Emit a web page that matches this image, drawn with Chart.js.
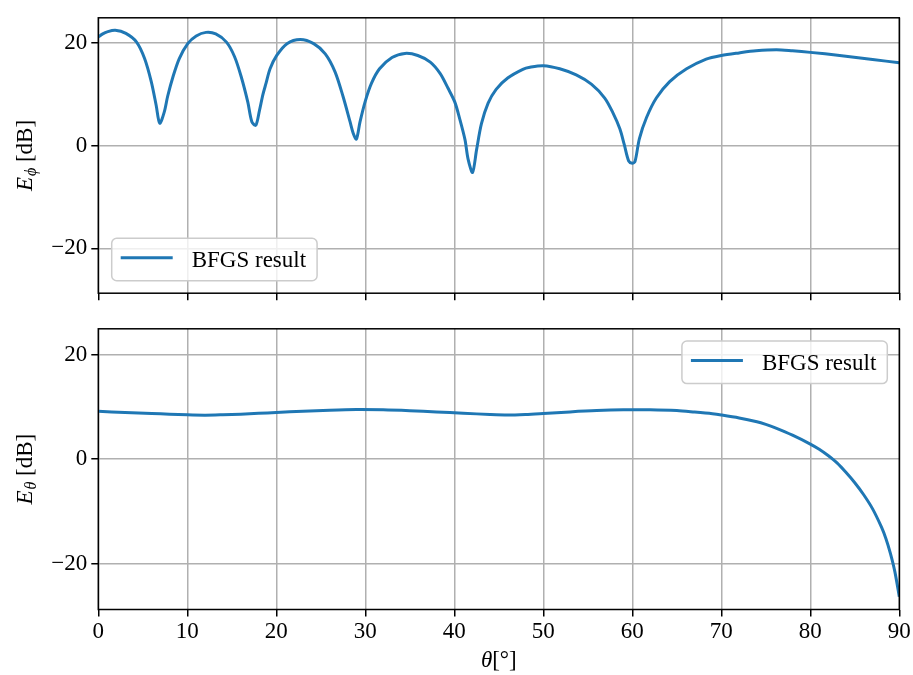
<!DOCTYPE html>
<html>
<head>
<meta charset="utf-8">
<script src="https://cdn.jsdelivr.net/npm/chart.js@4.4.1/dist/chart.umd.min.js"></script>
<style>
    body { margin: 0; background: #fff; }
    canvas { position: absolute; left: 0; }
    #phiChart { top: 0; }
    #thetaChart { top: 311px; }
</style>
</head>
<body>
<canvas id="phiChart" width="913" height="311"></canvas>
<canvas id="thetaChart" width="913" height="364"></canvas>
<script>
// E_phi pattern (dB) against theta (deg)
var theta_phi = [0, 0.5, 1.0, 1.9, 3.1, 4.3, 5.2, 5.95, 6.5, 6.9, 7.4, 7.8, 8.4, 9.1, 10.05, 11.0, 12.1, 13.2, 14.4, 15.3, 16.05, 16.8, 17.25, 17.7, 18.1, 18.5, 18.85, 19.3, 20.05, 21.2, 22.7, 24.2, 25.5, 26.6, 27.5, 28.3, 28.65, 29.0, 29.4, 30.0, 30.7, 31.6, 33.0, 34.45, 35.9, 37.3, 38.4, 39.3, 40.06, 40.6, 41.2, 41.55, 42.05, 42.5, 43.05, 43.8, 44.7, 46.0, 47.7, 48.5, 50.0, 51.85, 53.7, 55.4, 56.9, 57.8, 58.6, 59.1, 59.6, 60.0, 60.3, 60.8, 61.6, 62.7, 64.2, 66.1, 68.3, 70.0, 72.0, 73.9, 76.2, 78.0, 80.0, 83.3, 87.0, 90.0];
var e_phi = [21.2, 21.8, 22.2, 22.5, 21.9, 20.2, 17.0, 12.5, 7.9, 4.4, 6.5, 9.7, 13.5, 17.0, 19.9, 21.4, 22.1, 21.8, 20.2, 17.4, 13.5, 8.5, 4.7, 4.0, 6.8, 10.0, 12.2, 15.0, 17.6, 19.9, 20.7, 19.9, 17.9, 14.4, 9.6, 4.6, 2.4, 1.3, 4.6, 8.7, 12.2, 15.0, 17.2, 18.0, 17.6, 16.3, 14.1, 11.2, 8.5, 5.3, 1.2, -2.6, -5.2, -0.8, 4.3, 8.3, 11.0, 13.2, 14.9, 15.3, 15.6, 15.0, 13.8, 12.0, 9.3, 6.5, 3.3, 0.2, -3.0, -3.4, -3.1, 1.4, 5.5, 9.3, 12.5, 15.0, 16.9, 17.6, 18.1, 18.5, 18.7, 18.5, 18.2, 17.6, 16.8, 16.2];

// E_theta pattern (dB) against theta (deg)
var theta_theta = [0, 3, 6, 8, 10, 12, 14, 16, 18, 20, 23, 26, 29, 32, 35, 38, 41, 44, 46, 48, 50, 53, 56, 59, 62, 65, 67, 69, 70, 72, 74, 75, 76, 78, 80, 81, 82, 83, 84, 85, 86, 87, 88, 88.5, 89, 89.5, 90];
var e_theta = [9.15, 8.95, 8.75, 8.6, 8.48, 8.42, 8.5, 8.62, 8.78, 8.93, 9.18, 9.38, 9.5, 9.45, 9.28, 9.05, 8.8, 8.55, 8.45, 8.55, 8.74, 9.05, 9.3, 9.44, 9.45, 9.3, 9.02, 8.7, 8.47, 7.9, 7.15, 6.65, 6.05, 4.6, 2.9, 1.9, 0.7, -0.7, -2.5, -4.5, -6.8, -9.5, -13.0, -15.2, -18.0, -21.5, -26.3];

var y_ticks = [-20, 0, 20];
var y_range = [-28.74, 24.94];
var x_range = [0, 90];
var series_label = 'BFGS result';

var FAMILY = "'Liberation Serif', 'Times New Roman', serif";
var FONT_SIZE = 23;
var LINE_BLUE = '#1f77b4';

function points(xs, ys) {
    return xs.map(function (x, i) { return { x: x, y: ys[i] }; });
}

// full box round the axes, legend box and the mathtext-like axis labels
var axesDecor = {
    id: 'axesDecor',
    afterDraw: function (chart, args, opts) {
        var ctx = chart.ctx;
        var a = chart.chartArea;
        ctx.save();

        // legend
        ctx.font = FONT_SIZE + 'px ' + FAMILY;
        var tw = ctx.measureText(series_label).width;
        var h = 42.5;
        var w = 9 + 52 + 19 + tw + 11;
        var bx, by;
        if (opts.legendCorner === 'lower left') {
            bx = a.left + 13.4;
            by = a.bottom - 12.5 - h;
        } else {
            bx = a.right - 12 - w;
            by = a.top + 12.3;
        }
        ctx.beginPath();
        ctx.roundRect(bx, by, w, h, 5);
        ctx.fillStyle = 'rgba(255,255,255,0.8)';
        ctx.fill();
        ctx.strokeStyle = '#cccccc';
        ctx.lineWidth = 1.5;
        ctx.stroke();
        ctx.beginPath();
        ctx.moveTo(bx + 9, by + 19.5);
        ctx.lineTo(bx + 61, by + 19.5);
        ctx.strokeStyle = LINE_BLUE;
        ctx.lineWidth = 3;
        ctx.stroke();
        ctx.fillStyle = '#000';
        ctx.textBaseline = 'alphabetic';
        ctx.textAlign = 'left';
        ctx.fillText(series_label, bx + 80, by + 28.5);

        // spines
        ctx.strokeStyle = '#000';
        ctx.lineWidth = 1.5;
        ctx.strokeRect(a.left, a.top, a.right - a.left, a.bottom - a.top);

        // y label: E with a subscript, then [dB]
        var cy = (a.top + a.bottom) / 2;
        ctx.translate(opts.yLabelX, cy);
        ctx.rotate(-Math.PI / 2);
        var fIt = 'italic ' + FONT_SIZE + 'px ' + FAMILY;
        var fSub = 'italic 16px ' + FAMILY;
        var fRm = FONT_SIZE + 'px ' + FAMILY;
        ctx.font = fIt; var w1 = ctx.measureText('E').width;
        ctx.font = fSub; var w2 = ctx.measureText(opts.sub).width;
        ctx.font = fRm; var w3 = ctx.measureText(' [dB]').width;
        var x = -(w1 + w2 + 1 + w3) / 2;
        ctx.font = fIt; ctx.fillText('E', x, 0); x += w1 + 1;
        ctx.font = fSub; ctx.fillText(opts.sub, x, 4); x += w2;
        ctx.font = fRm; ctx.fillText(' [dB]', x, 0);
        ctx.setTransform(1, 0, 0, 1, 0, 0);

        // x label under the lower axes
        if (opts.xLabel) {
            var mx = (a.left + a.right) / 2;
            ctx.font = fIt; var t1 = ctx.measureText('\u03b8').width;
            ctx.font = fRm; var t2 = ctx.measureText('[\u00b0]').width;
            var sx = mx - (t1 + t2) / 2;
            ctx.font = fIt; ctx.fillText('\u03b8', sx, opts.xLabelY);
            ctx.font = fRm; ctx.fillText('[\u00b0]', sx + t1, opts.xLabelY);
        }
        ctx.restore();
    }
};

function axisOptions(xHeight, showXLabels) {
    return {
        x: {
            type: 'linear',
            min: x_range[0],
            max: x_range[1],
            afterFit: function (scale) { scale.height = xHeight; },
            border: { display: false },
            grid: { color: '#b0b0b0', lineWidth: 1.5, tickColor: '#000', tickWidth: 1.5, tickLength: 7 },
            ticks: {
                display: showXLabels,
                stepSize: 10,
                padding: 2,
                color: '#000',
                font: { family: FAMILY, size: FONT_SIZE }
            }
        },
        y: {
            type: 'linear',
            min: y_range[0],
            max: y_range[1],
            afterFit: function (scale) { scale.width = 98.3; },
            afterBuildTicks: function (scale) {
                scale.ticks = y_ticks.map(function (v) { return { value: v }; });
            },
            border: { display: false },
            grid: { color: '#b0b0b0', lineWidth: 1.5, tickColor: '#000', tickWidth: 1.5, tickLength: 7 },
            ticks: {
                padding: 4,
                color: '#000',
                font: { family: FAMILY, size: FONT_SIZE },
                callback: function (v) { return v < 0 ? '\u2212' + Math.abs(v) : String(v); }
            }
        }
    };
}

function lineDataset(xs, ys) {
    return {
        label: series_label,
        data: points(xs, ys),
        borderColor: LINE_BLUE,
        borderWidth: 3,
        pointRadius: 0,
        tension: 0.3,
        fill: false
    };
}

var phiChart = new Chart(document.getElementById('phiChart'), {
    type: 'line',
    data: { datasets: [lineDataset(theta_phi, e_phi)] },
    options: {
        responsive: false,
        animation: false,
        events: [],
        layout: { padding: { top: 13.3, right: 13.7, left: 0, bottom: 0 } },
        scales: axisOptions(311 - 295.2, false),
        plugins: {
            legend: { display: false },
            tooltip: { enabled: false },
            axesDecor: { legendCorner: 'lower left', sub: '\u03d5', yLabelX: 32, xLabel: false }
        }
    },
    plugins: [axesDecor]
});

var thetaChart = new Chart(document.getElementById('thetaChart'), {
    type: 'line',
    data: { datasets: [lineDataset(theta_theta, e_theta)] },
    options: {
        responsive: false,
        animation: false,
        events: [],
        layout: { padding: { top: 16.7, right: 13.7, left: 0, bottom: 0 } },
        scales: axisOptions(364 - 298.5, true),
        plugins: {
            legend: { display: false },
            tooltip: { enabled: false },
            axesDecor: { legendCorner: 'upper right', sub: '\u03b8', yLabelX: 32, xLabel: true, xLabelY: 356 }
        }
    },
    plugins: [axesDecor]
});
</script>
</body>
</html>
